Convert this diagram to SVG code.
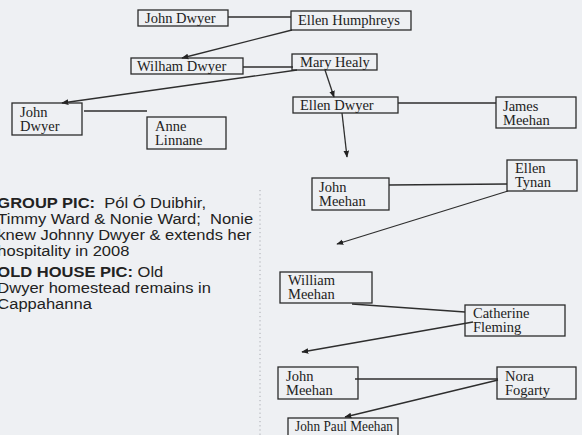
<svg xmlns="http://www.w3.org/2000/svg" width="582" height="435" viewBox="0 0 582 435">
<style>
.box rect{fill:none;stroke:#2b2b2b;stroke-width:1.3}
.box text{font-family:"Liberation Serif","Times New Roman",serif;font-size:14.5px;fill:#222}
.cap{font-family:"Liberation Sans",Arial,sans-serif;font-size:15.5px;fill:#222}
.cap .b{font-weight:bold}
#connectors line{stroke:#2e2e2e;stroke-width:1.3}
#connectors .arr{marker-end:url(#ah)}
</style>
<defs>
<marker id="ah" viewBox="0 0 10 10" refX="9" refY="5" markerWidth="7" markerHeight="7" markerUnits="userSpaceOnUse" orient="auto">
<path d="M0,1 L10,5 L0,9 z" fill="#222"/>
</marker>
</defs>
<rect width="582" height="435" fill="#eef0f3"/>

<g id="connectors">
<line x1="228" y1="17" x2="291" y2="17"/>
<line class="arr" x1="292" y1="30" x2="182" y2="58"/>
<line x1="243" y1="67" x2="293" y2="67"/>
<line class="arr" x1="297" y1="70" x2="62" y2="103"/>
<line x1="84" y1="111" x2="147" y2="111"/>
<line class="arr" x1="325" y1="70" x2="334" y2="97"/>
<line x1="398" y1="103" x2="496" y2="103"/>
<line class="arr" x1="342" y1="113" x2="347" y2="157"/>
<line x1="389" y1="185" x2="507" y2="184"/>
<line class="arr" x1="508" y1="191" x2="337" y2="244"/>
<line x1="352" y1="304" x2="465" y2="312"/>
<line class="arr" x1="473" y1="322" x2="302" y2="352"/>
<line x1="355" y1="379" x2="498" y2="379"/>
<line class="arr" x1="498" y1="380" x2="345" y2="417"/>
</g>

<line x1="260" y1="190" x2="260" y2="435" stroke="#a8aab0" stroke-width="1" stroke-dasharray="1.2 3"/>

<g id="n-john-dwyer" class="box"><rect x="138" y="10" width="90" height="16"/><text x="145" y="23">John Dwyer</text></g>
<g id="n-ellen-humphreys" class="box"><rect x="291" y="11" width="120" height="19"/><text x="298" y="24.5">Ellen Humphreys</text></g>
<g id="n-william-dwyer" class="box"><rect x="131" y="58" width="112" height="16"/><text x="137" y="70.5">Wilham Dwyer</text></g>
<g id="n-mary-healy" class="box"><rect x="292" y="54" width="85" height="16"/><text x="300" y="66.5">Mary Healy</text></g>
<g id="n-john-dwyer-2" class="box"><rect x="12" y="103" width="70" height="32"/><text x="20" y="117">John</text><text x="20" y="131">Dwyer</text></g>
<g id="n-anne-linnane" class="box"><rect x="147" y="117" width="79" height="32"/><text x="155" y="131">Anne</text><text x="155" y="145">Linnane</text></g>
<g id="n-ellen-dwyer" class="box"><rect x="293" y="97" width="105" height="16"/><text x="300" y="109.5">Ellen Dwyer</text></g>
<g id="n-james-meehan" class="box"><rect x="496" y="97" width="80" height="31"/><text x="503" y="111">James</text><text x="503" y="125">Meehan</text></g>
<g id="n-john-meehan" class="box"><rect x="312" y="178" width="77" height="32"/><text x="319" y="192">John</text><text x="319" y="206">Meehan</text></g>
<g id="n-ellen-tynan" class="box"><rect x="507" y="160" width="70" height="31"/><text x="515" y="173">Ellen</text><text x="515" y="187">Tynan</text></g>
<g id="n-william-meehan" class="box"><rect x="280" y="272" width="92" height="31"/><text x="288" y="285">William</text><text x="288" y="299">Meehan</text></g>
<g id="n-catherine-fleming" class="box"><rect x="465" y="305" width="100" height="31"/><text x="473" y="318">Catherine</text><text x="473" y="332">Fleming</text></g>
<g id="n-john-meehan-2" class="box"><rect x="278" y="367" width="80" height="32"/><text x="286" y="381">John</text><text x="286" y="395">Meehan</text></g>
<g id="n-nora-fogarty" class="box"><rect x="497" y="367" width="79" height="32"/><text x="505" y="381">Nora</text><text x="505" y="395">Fogarty</text></g>
<g id="n-john-paul-meehan" class="box"><rect x="288" y="418" width="110" height="20"/><text x="295" y="431" textLength="98" lengthAdjust="spacingAndGlyphs">John Paul Meehan</text></g>

<g id="caption" class="cap" transform="scale(1.065 1)">
<text x="-2.5" y="208"><tspan class="b">GROUP PIC:</tspan>&#160; Pól Ó Duibhir,</text>
<text x="-2.5" y="224">Timmy Ward &amp; Nonie Ward;&#160; Nonie</text>
<text x="-2.5" y="240">knew Johnny Dwyer &amp; extends her</text>
<text x="-2.5" y="256">hospitality in 2008</text>
<text x="-2.5" y="277"><tspan class="b">OLD HOUSE PIC:</tspan> Old</text>
<text x="-2.5" y="293">Dwyer homestead remains in</text>
<text x="-2.5" y="309">Cappahanna</text>
</g>
</svg>
